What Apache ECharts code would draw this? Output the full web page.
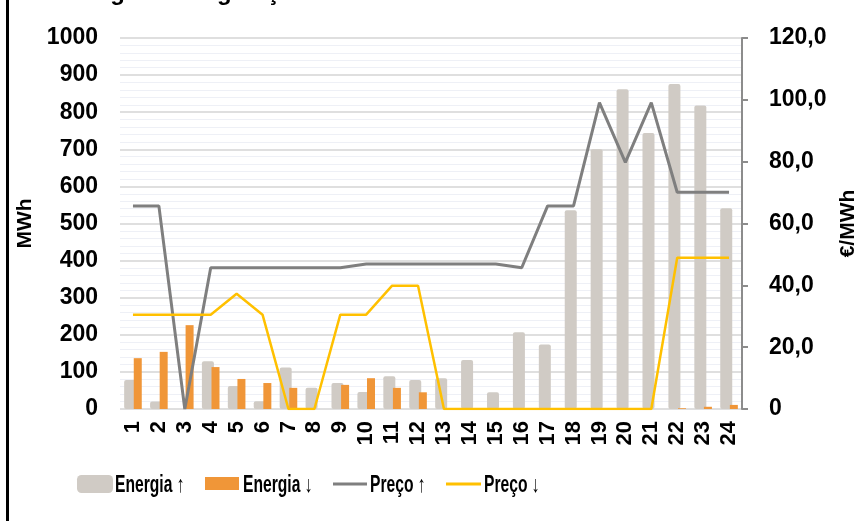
<!DOCTYPE html>
<html>
<head>
<meta charset="utf-8">
<script src="https://cdn.jsdelivr.net/npm/echarts@6/dist/echarts.min.js"></script>
<style>html,body{margin:0;padding:0;background:#fff;}#c{width:860px;height:521px;}</style>
</head>
<body>
<div id="c"></div>
<script>
const hours = ['1','2','3','4','5','6','7','8','9','10','11','12','13','14','15','16','17','18','19','20','21','22','23','24'];
const energiaUp = [78, 20, 0, 129, 62, 21, 112, 57, 70, 46, 88, 78, 83, 132, 45, 207, 174, 536, 700, 862, 744, 876, 818, 541];
const energiaDown = [137, 154, 226, 113, 81, 70, 57, 0, 65, 83, 57, 45, 0, 0, 0, 0, 0, 0, 0, 0, 0, 2, 6, 11];
const precoUp = [65.7, 65.7, 0, 45.7, 45.7, 45.7, 45.7, 45.7, 45.7, 46.9, 46.9, 46.9, 46.9, 46.9, 46.9, 45.7, 65.7, 65.7, 99.1, 79.8, 99.1, 70.1, 70.1, 70.1];
const precoDown = [30.5, 30.5, 30.5, 30.5, 37.3, 30.5, 0, 0, 30.5, 30.5, 39.9, 39.9, 0, 0, 0, 0, 0, 0, 0, 0, 0, 48.9, 48.9, 48.9];
const leftTicks = [0, 1000, 100];
const rightTicks = [0, 120, 20];
const seriesNames = ['Energia ↑', 'Energia ↓', 'Preço ↑', 'Preço ↓'];

const chart = echarts.init(document.getElementById('c'), null, {renderer: 'canvas'});
const FONT = '"Liberation Sans", Arial, sans-serif';

// legend layout (icon boxes + label x positions)
const legendLayout = [
  {left: 77, top: 475, w: 36, h: 18, icon: 'roundRect', tx: 115},
  {left: 205, top: 477, w: 34, h: 13, icon: 'rect', tx: 243},
  {left: 333, top: 482.5, w: 34, h: 3, icon: 'rect', tx: 370},
  {left: 446, top: 482.5, w: 35, h: 3, icon: 'rect', tx: 484}
];
const legends = legendLayout.map((l, i) => ({
  data: [seriesNames[i]], left: l.left, top: l.top, padding: 0,
  itemWidth: l.w, itemHeight: l.h, icon: l.icon, selectedMode: false,
  formatter: () => ' ', textStyle: {fontSize: 1, color: 'rgba(0,0,0,0)'}
}));
const legendTexts = legendLayout.map((l, i) => ({
  type: 'text', x: l.tx, y: 486, scaleX: 0.68, silent: true,
  style: {text: seriesNames[i], font: 'bold 23px ' + FONT, fill: '#000', verticalAlign: 'middle'}
}));

chart.setOption({
  animation: false,
  backgroundColor: '#fff',
  graphic: [
    {type: 'rect', shape: {x: 6, y: 0, width: 3, height: 521}, style: {fill: '#000'}},
    {type: 'text', x: 57, y: -7, style: {text: 'Energia de Regulação', font: 'bold 24px ' + FONT, fill: '#000', verticalAlign: 'middle'}}
  ].concat(legendTexts),
  grid: {left: 120, right: 118, top: 38, bottom: 112, containLabel: false, outerBoundsMode: 'none'},
  legend: legends,
  xAxis: {
    type: 'category', data: hours,
    axisLine: {show: false}, axisTick: {show: false},
    axisLabel: {rotate: 90, fontFamily: FONT, fontWeight: 'bold', fontSize: 22, color: '#000', margin: 12, interval: 0}
  },
  yAxis: [
    {
      type: 'value', min: leftTicks[0], max: leftTicks[1], interval: leftTicks[2],
      name: 'MWh', nameLocation: 'middle', nameRotate: 90, nameGap: 73,
      nameTextStyle: {fontFamily: FONT, fontWeight: 'bold', fontSize: 21, color: '#000'},
      axisLine: {show: false}, axisTick: {show: false},
      axisLabel: {fontFamily: FONT, fontWeight: 'bold', fontSize: 23, color: '#000', margin: 22,
        formatter: v => String(v)},
      splitLine: {lineStyle: {color: '#D4D4D4', width: 1.5}},
      minorTick: {show: false, splitNumber: 5},
      minorSplitLine: {show: true, lineStyle: {color: '#EEF0F6', width: 1}}
    },
    {
      type: 'value', min: rightTicks[0], max: rightTicks[1], interval: rightTicks[2], position: 'right',
      name: '€/MWh', nameLocation: 'middle', nameRotate: 90, nameGap: 92,
      nameTextStyle: {fontFamily: FONT, fontWeight: 'bold', fontSize: 21, color: '#000'},
      axisLine: {show: true, lineStyle: {color: '#8C8C8C', width: 2}},
      axisTick: {show: true, length: 6, inside: false, lineStyle: {color: '#8C8C8C', width: 2}},
      axisLabel: {fontFamily: FONT, fontWeight: 'bold', fontSize: 23, color: '#000', margin: 27,
        formatter: v => v === 0 ? '0' : v.toFixed(1).replace('.', ',')},
      splitLine: {show: false}
    }
  ],
  series: [
    {name: seriesNames[0], type: 'bar', data: energiaUp, barWidth: 12, barGap: '-20%',
     itemStyle: {color: '#D0CBC5', borderRadius: 2}},
    {name: seriesNames[1], type: 'bar', data: energiaDown, barWidth: 8,
     itemStyle: {color: '#F09638'}},
    {name: seriesNames[2], type: 'line', yAxisIndex: 1, data: precoUp, symbol: 'none',
     lineStyle: {color: '#7F7F7F', width: 3}, itemStyle: {color: '#7F7F7F'}},
    {name: seriesNames[3], type: 'line', yAxisIndex: 1, data: precoDown, symbol: 'none',
     lineStyle: {color: '#FFC000', width: 2.5}, itemStyle: {color: '#FFC000'}}
  ]
});
</script>
</body>
</html>
